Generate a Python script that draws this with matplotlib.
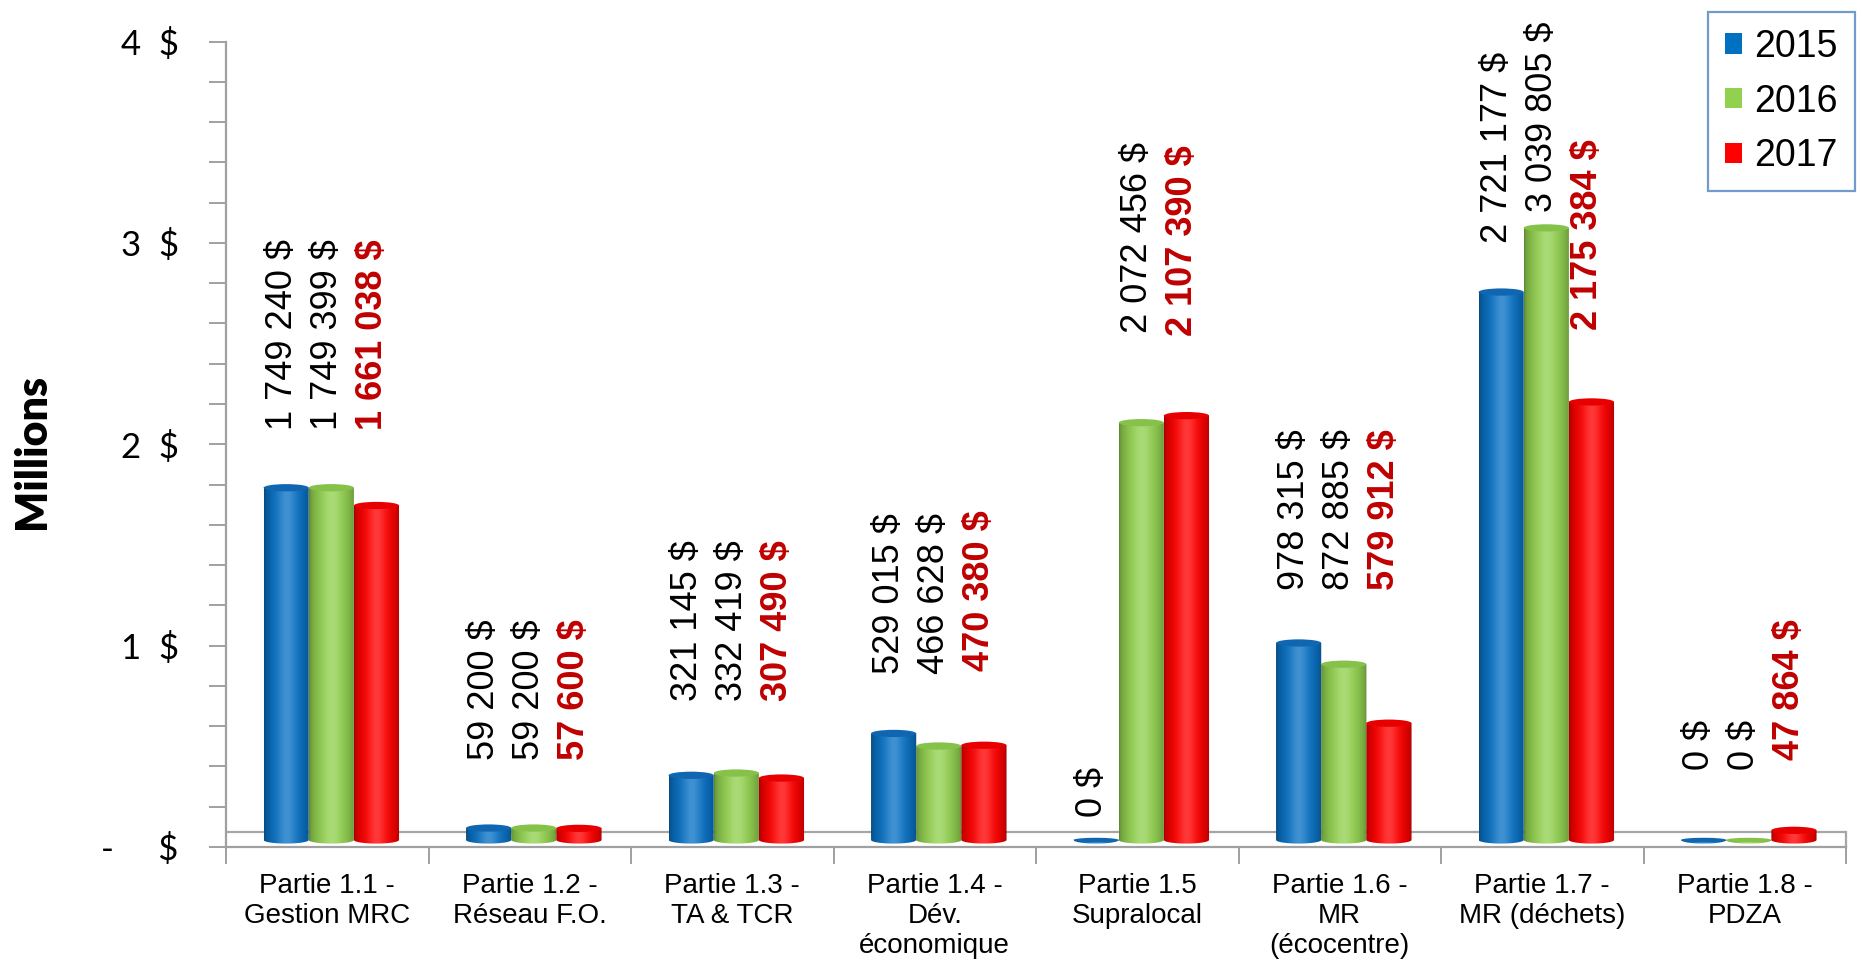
import matplotlib
matplotlib.use('Agg')
import matplotlib.pyplot as plt
import numpy as np
from matplotlib.patches import Ellipse, Patch, PathPatch
from matplotlib.path import Path
from matplotlib.colors import to_rgb

# ---------------- data ----------------
categories = ["Partie 1.1 -\nGestion MRC", "Partie 1.2 -\nRéseau F.O.", "Partie 1.3 -\nTA & TCR",
              "Partie 1.4 -\nDév.\néconomique", "Partie 1.5\nSupralocal", "Partie 1.6 -\nMR\n(écocentre)",
              "Partie 1.7 -\nMR (déchets)", "Partie 1.8 -\nPDZA"]
years = ["2015", "2016", "2017"]
v2015 = [1749240, 59200, 321145, 529015, 0, 978315, 2721177, 0]
v2016 = [1749399, 59200, 332419, 466628, 2072456, 872885, 3039805, 0]
v2017 = [1661038, 57600, 307490, 470380, 2107390, 579912, 2175384, 47864]
ytick_vals = [0, 1, 2, 3, 4]
ytick_labels = ["-     $", "1  $", "2  $", "3  $", "4  $"]

# ---------------- layout (label baselines, in millions) ----------------
label_y_2015 = [2.07, 0.43, 0.725, 0.86, 0.147, 1.275, 3.0, 0.383]
label_y_2016 = [2.07, 0.43, 0.725, 0.86, 2.555, 1.275, 3.156, 0.383]
label_y_2017 = [2.07, 0.43, 0.725, 0.875, 2.54, 1.275, 2.57, 0.43]

colors = ["#0a72c4", "#92D050", "#FF0000"]
cap_colors = ["#1066b0", "#86c24a", "#e80000"]
label_colors = ["black", "black", "#C00000"]
label_weights = ["normal", "normal", "bold"]

series = [v2015, v2016, v2017]
label_ys = [label_y_2015, label_y_2016, label_y_2017]

plt.rcParams['font.family'] = ['Liberation Sans', 'DejaVu Sans']

fig = plt.figure(figsize=(18.62, 9.66), dpi=100)
ax = fig.add_axes([226/1862, 1-847/966, (1846-226)/1862, (847-41.6)/966])

n = len(categories)
bw = 0.223
base = 0.035
eh = 0.036
x_center = np.arange(n) + 0.52


def cyl_colors(c, npts=80):
    rgb = np.array(to_rgb(c))
    t = np.linspace(0, 1, npts)
    s = np.sin(np.pi * t) ** 0.45
    hl = np.exp(-((t - 0.5) / 0.2) ** 2)
    dark = 0.62 + 0.38 * s
    col = rgb[None, :] * dark[:, None]
    col = col + (1 - col) * 0.22 * hl[:, None]
    return np.clip(col, 0, 1)


for k, vals in enumerate(series):
    vm = np.array(vals) / 1e6
    xs = x_center + (k - 1) * bw
    rects = ax.bar(xs, vm, bw, bottom=base, color=colors[k], zorder=3, label=years[k])
    grad = cyl_colors(colors[k])[None, :, :]
    for r in rects:
        x0 = r.get_x(); w = r.get_width(); h = r.get_height(); y0 = r.get_y()
        xc = x0 + w / 2
        th = np.linspace(np.pi, 2 * np.pi, 40)
        verts = [(x0, y0 + h), (x0, y0)]
        verts += [(xc + w / 2 * np.cos(t), y0 + eh / 2 * np.sin(t)) for t in th]
        verts += [(x0 + w, y0 + h), (x0, y0 + h)]
        path = Path(verts, closed=True)
        r.set_visible(False)
        im = ax.imshow(grad, extent=[x0, x0 + w, y0 - eh, y0 + h], aspect='auto',
                       zorder=4, interpolation='bilinear')
        im.set_clip_path(PathPatch(path, transform=ax.transData))
        ehc = eh if h > 0 else eh * 0.6
        cap = Ellipse((xc, y0 + h), w, ehc, facecolor=cap_colors[k], edgecolor='none',
                      zorder=5, clip_on=False)
        ax.add_patch(cap)
    for i, v in enumerate(vals):
        txt = f"{v:,}".replace(",", " ") + " $"
        ax.text(xs[i] - 0.02, label_ys[k][i], txt, rotation=90, ha='center', va='bottom',
                fontsize=26, color=label_colors[k], fontweight=label_weights[k], zorder=6)

ax.set_xlim(0, n)
ax.set_ylim(0, 4)

# floor back edge
ax.axhline(0.075, color="#a6a6a6", lw=1.6, zorder=1)
ax.plot([n, n], [0, 0.075], color="#a6a6a6", lw=1.6, zorder=1, clip_on=False)

for side in ['top', 'right']:
    ax.spines[side].set_visible(False)
for side in ['left', 'bottom']:
    ax.spines[side].set_color("#a0a0a0")
    ax.spines[side].set_linewidth(1.6)

ax.set_yticks(ytick_vals)
ax.set_yticklabels(ytick_labels, fontsize=25, family=['Lato', 'DejaVu Sans'])
ax.set_yticks(np.arange(0, 4.01, 0.2), minor=True)
ax.tick_params(axis='y', which='both', direction='out', color="#a0a0a0", width=1.4, pad=22)
ax.tick_params(axis='y', which='major', length=12)
ax.tick_params(axis='y', which='minor', length=12)

ax.set_xticks(np.arange(0, n + 1))
ax.set_xticklabels([""] * (n + 1))
ax.set_xticks(np.arange(n) + 0.5, minor=True)
ax.set_xticklabels(categories, minor=True, fontsize=20, linespacing=1.2)
ax.tick_params(axis='x', which='major', direction='out', length=12, color="#a0a0a0", width=1.4)
ax.tick_params(axis='x', which='minor', length=0, pad=19)

fig.text(0.017, 0.533, "Millions", rotation=90, ha='center', va='center', fontsize=31,
         fontweight='heavy', family=['Lato', 'DejaVu Sans'])

handles = [Patch(facecolor=c, edgecolor='none') for c in ["#0070C0", "#92D050", "#FF0000"]]
leg = ax.legend(handles, years, loc='upper right', bbox_to_anchor=(1855/1862, 1-12/966),
                bbox_transform=fig.transFigure, fontsize=27, frameon=True, fancybox=False,
                handlelength=0.45, handleheight=0.45, handletextpad=0.35, labelspacing=0.5,
                borderpad=0.45, borderaxespad=0)
leg.get_frame().set_edgecolor("#4F81BD")
leg.get_frame().set_linewidth(1.6)

fig.savefig("out.png", dpi=100)
